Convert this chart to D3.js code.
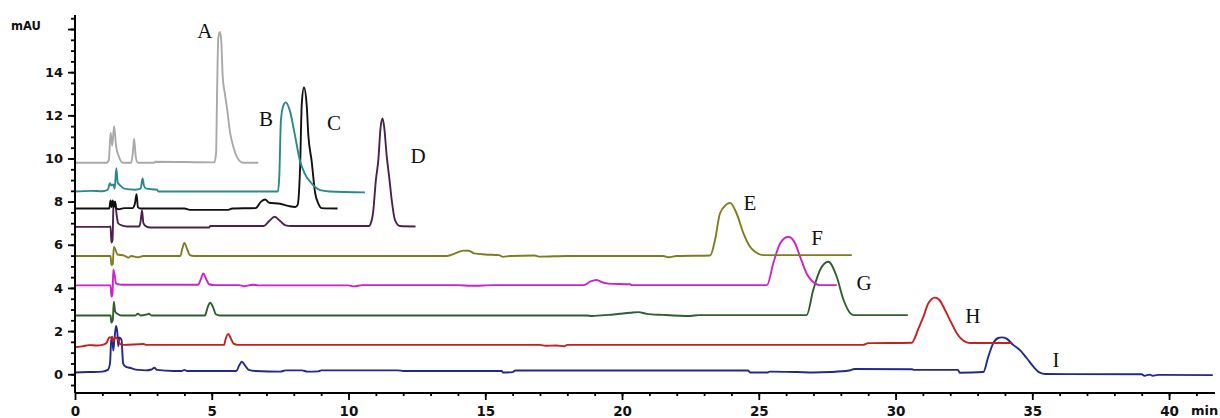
<!DOCTYPE html>
<html>
<head>
<meta charset="utf-8">
<script src="https://cdn.jsdelivr.net/npm/d3@7"></script>
<style>
  html, body { margin: 0; padding: 0; background: #fff; }
  svg { display: block; }
</style>
</head>
<body>
<svg id="chart" width="1220" height="418"></svg>
<script>
// ---- Data (retention time in min, absorbance in mAU) ----
const traceA = [[0,9.8],[1.15,9.8],[1.24,9.95],[1.3,11.2],[1.36,10.6],[1.43,11.5],[1.5,10.6],[1.6,10.1],[1.75,9.8],[2.05,9.8],[2.11,10.2],[2.16,10.9],[2.22,10.1],[2.3,9.8],[2.9,9.8],[2.93,9.85],[5.1,9.82],[5.16,10.3],[5.19,12.7],[5.24,15.6],[5.3,15.86],[5.35,15.4],[5.4,13.8],[5.48,13.0],[5.55,12.4],[5.67,11.2],[5.8,10.5],[5.91,10.1],[6.15,9.8],[6.7,9.8]];
const traceB = [[0,8.47],[0.6,8.5],[1.0,8.48],[1.2,8.55],[1.28,8.85],[1.33,8.75],[1.4,8.8],[1.45,8.6],[1.51,9.55],[1.56,8.9],[1.65,8.75],[1.8,8.6],[2.2,8.55],[2.4,8.6],[2.47,9.07],[2.52,8.75],[2.6,8.6],[3.0,8.55],[3.05,8.47],[7.42,8.47],[7.47,9.2],[7.53,11.8],[7.63,12.5],[7.7,12.6],[7.85,12.24],[8.03,11.15],[8.22,9.92],[8.4,9.3],[8.6,8.92],[8.8,8.65],[8.96,8.53],[9.3,8.47],[10.6,8.43]];
const traceC = [[0,7.68],[1.25,7.68],[1.3,8.05],[1.34,7.75],[1.38,8.05],[1.42,7.75],[1.46,8.0],[1.5,7.7],[1.6,7.65],[1.8,7.7],[2.1,7.7],[2.19,7.9],[2.25,8.35],[2.3,7.75],[2.4,7.68],[4.0,7.68],[4.2,7.62],[5.6,7.62],[5.75,7.68],[6.6,7.7],[6.8,8.0],[6.95,8.1],[7.1,7.95],[7.5,7.9],[7.8,7.8],[8.05,7.75],[8.14,7.85],[8.23,9.6],[8.29,12.5],[8.37,13.29],[8.47,12.5],[8.53,11.1],[8.65,9.9],[8.78,8.4],[8.9,7.9],[9.02,7.7],[9.6,7.68]];
const traceD = [[0,6.83],[1.25,6.83],[1.3,6.85],[1.33,6.1],[1.37,6.2],[1.41,7.9],[1.47,8.0],[1.52,7.4],[1.58,7.0],[1.7,6.9],[1.9,6.85],[2.35,6.85],[2.4,7.1],[2.45,7.6],[2.5,7.0],[2.6,6.85],[2.75,6.8],[4.9,6.8],[4.95,6.87],[6.9,6.87],[7.1,7.1],[7.3,7.3],[7.5,7.1],[7.7,6.9],[7.9,6.87],[10.75,6.87],[10.8,6.95],[10.9,7.5],[11.0,9.0],[11.09,9.92],[11.17,11.4],[11.24,11.85],[11.3,11.5],[11.4,10.07],[11.5,9.0],[11.58,8.07],[11.7,7.14],[11.88,6.87],[12.45,6.85]];
const traceE = [[0,5.48],[1.3,5.48],[1.33,5.06],[1.38,5.1],[1.42,5.9],[1.47,5.8],[1.55,5.55],[1.8,5.5],[1.95,5.4],[2.05,5.48],[2.3,5.42],[2.5,5.48],[3.85,5.48],[3.92,5.8],[4.0,6.09],[4.1,5.8],[4.2,5.52],[4.35,5.48],[13.6,5.48],[13.9,5.6],[14.2,5.73],[14.4,5.72],[14.6,5.6],[15.0,5.55],[15.5,5.52],[15.65,5.44],[15.9,5.48],[16.8,5.5],[17.0,5.45],[18.0,5.48],[21.5,5.48],[21.7,5.42],[22.0,5.48],[23.22,5.5],[23.4,6.22],[23.58,7.45],[23.8,7.85],[23.95,7.94],[24.19,7.45],[24.44,6.53],[24.68,5.91],[24.92,5.63],[25.17,5.52],[28.4,5.52]];
const traceF = [[0,4.12],[1.3,4.12],[1.33,3.6],[1.37,3.7],[1.4,4.85],[1.45,4.6],[1.5,4.2],[1.7,4.15],[4.5,4.15],[4.6,4.4],[4.69,4.67],[4.8,4.4],[4.9,4.17],[5.1,4.13],[6.0,4.13],[6.2,4.08],[6.5,4.15],[6.7,4.12],[10.0,4.12],[10.2,4.07],[10.5,4.13],[14.0,4.13],[14.5,4.1],[15.3,4.13],[18.6,4.13],[18.85,4.3],[19.07,4.37],[19.3,4.25],[19.5,4.2],[20.3,4.17],[20.35,4.13],[25.3,4.13],[25.53,5.14],[25.78,6.06],[26.08,6.37],[26.33,6.06],[26.51,5.45],[26.75,4.67],[27.06,4.21],[27.24,4.13],[27.85,4.13]];
const traceG = [[0,2.72],[1.3,2.72],[1.33,2.39],[1.38,2.5],[1.42,3.36],[1.47,2.9],[1.55,2.8],[1.7,2.72],[2.2,2.72],[2.3,2.8],[2.4,2.72],[2.6,2.76],[2.7,2.8],[2.8,2.72],[4.75,2.72],[4.85,3.1],[4.94,3.31],[5.05,3.1],[5.15,2.78],[5.3,2.72],[18.7,2.72],[18.9,2.7],[19.5,2.75],[19.9,2.8],[20.3,2.85],[20.6,2.88],[20.9,2.8],[21.5,2.75],[22.5,2.7],[22.8,2.74],[26.75,2.74],[26.99,3.9],[27.24,4.83],[27.54,5.21],[27.85,4.52],[28.1,3.44],[28.35,2.82],[28.47,2.74],[30.45,2.74]];
const traceH = [[0,1.25],[0.3,1.3],[0.5,1.35],[0.8,1.33],[1.0,1.36],[1.15,1.45],[1.25,1.7],[1.35,1.71],[1.4,1.5],[1.45,1.7],[1.55,1.65],[1.65,1.4],[1.8,1.36],[2.5,1.4],[2.6,1.36],[5.45,1.36],[5.5,1.6],[5.6,1.87],[5.7,1.65],[5.8,1.42],[5.95,1.36],[17.0,1.36],[17.2,1.32],[17.6,1.33],[17.9,1.3],[18.0,1.36],[28.8,1.36],[29.0,1.44],[30.59,1.46],[30.84,2.13],[31.02,2.67],[31.2,3.29],[31.44,3.55],[31.6,3.45],[31.75,3.13],[31.99,2.51],[32.24,1.9],[32.54,1.51],[32.72,1.45],[34.25,1.45]];
const traceI = [[0,0.08],[0.5,0.1],[1.0,0.12],[1.2,0.2],[1.28,0.5],[1.32,1.5],[1.36,1.74],[1.4,1.1],[1.44,1.6],[1.5,2.24],[1.55,1.9],[1.58,1.3],[1.62,1.7],[1.7,1.6],[1.76,0.5],[1.85,0.35],[2.0,0.3],[2.3,0.2],[2.6,0.18],[2.8,0.22],[2.9,0.3],[3.0,0.2],[3.6,0.15],[3.9,0.15],[4.0,0.2],[4.1,0.15],[5.9,0.15],[6.0,0.4],[6.1,0.58],[6.22,0.4],[6.35,0.2],[6.6,0.15],[7.5,0.12],[7.7,0.18],[8.3,0.18],[8.5,0.12],[8.9,0.13],[9.0,0.18],[11.8,0.18],[12.0,0.15],[15.6,0.15],[15.65,0.08],[16.0,0.1],[16.1,0.17],[24.6,0.17],[24.7,0.08],[25.3,0.08],[25.4,0.12],[26.4,0.1],[27.0,0.08],[27.6,0.1],[28.3,0.17],[28.5,0.24],[30.6,0.23],[30.7,0.2],[32.28,0.2],[32.35,0.07],[33.21,0.1],[33.39,0.81],[33.57,1.43],[33.75,1.68],[33.88,1.71],[34.06,1.65],[34.3,1.36],[34.55,1.12],[34.8,0.74],[35.04,0.35],[35.28,0.07],[35.47,0.01],[39.0,0.0],[39.1,-0.07],[39.3,-0.02],[39.4,-0.07],[39.6,-0.03],[41.6,-0.04]];

const sampleNames = ["I","H","G","F","E","D","C","B","A"];
const sampleColors = ["#1f2a8c","#c81e1e","#2f5f2f","#cc22cc","#7d7d1e","#4e204e","#111111","#2a8a8a","#a9a9a9"];
const sampleTraces = [traceI, traceH, traceG, traceF, traceE, traceD, traceC, traceB, traceA];
// label anchors [time, mAU]
const labelNames = ["A","B","C","D","E","F","G","H","I"];
const labelAnchors = [[4.75,15.57],[6.98,11.49],[9.47,11.31],[12.54,9.78],[24.68,7.61],[27.13,5.99],[28.85,3.9],[32.83,2.38],[35.87,0.34]];

const xMajorTicks = [0,5,10,15,20,25,30,35,40];
const yMajorTicks = [0,2,4,6,8,10,12,14,16];
const yTickLabels = ["0","2","4","6","8","10","12","14",""];

// ---- Drawing ----
const svg = d3.select("#chart");
svg.append("rect").attr("width",1220).attr("height",418).attr("fill","#fff");

const x = d3.scaleLinear().domain([0, 41.68]).range([75, 1215]);
const y = d3.scaleLinear().domain([-0.87, 16.65]).range([393, 15]);

const line = d3.line().curve(d3.curveMonotoneX).x(d => x(d[0])).y(d => y(d[1]));

const g = svg.append("g");
sampleTraces.forEach((tr, i) => {
  g.append("path")
    .datum(tr)
    .attr("d", line)
    .attr("fill", "none")
    .attr("stroke", sampleColors[i])
    .attr("stroke-width", 1.9)
    .attr("stroke-linejoin", "round");
});

// Axes
const fontAxis = "'DejaVu Sans', Verdana, sans-serif";
const yAxisMinor = d3.axisLeft(y).tickValues(d3.range(-0.5, 16.6, 0.5)).tickSize(4).tickFormat("");
const yAxisMajor = d3.axisLeft(y).tickValues(yMajorTicks).tickSize(7).tickPadding(5)
  .tickFormat((d,i) => yTickLabels[i]);
const gy1 = svg.append("g").attr("transform","translate(75,0)").call(yAxisMinor);
const gy2 = svg.append("g").attr("transform","translate(75,0)").call(yAxisMajor);
[gy1, gy2].forEach(a => {
  a.select(".domain").remove();
  a.selectAll(".tick line").attr("stroke","#000").attr("stroke-width",1.8);
});
gy2.selectAll(".tick text").attr("font-family", fontAxis).attr("font-size", 13)
  .attr("font-weight","bold").attr("fill","#111");

const xAxisMinor = d3.axisBottom(x).tickValues(d3.range(1, 42, 1)).tickSize(3).tickFormat("");
const xAxisMajor = d3.axisBottom(x).tickValues(xMajorTicks).tickSize(7).tickPadding(6).tickFormat(d3.format("d"));
const gx1 = svg.append("g").attr("transform","translate(0,393)").call(xAxisMinor);
const gx2 = svg.append("g").attr("transform","translate(0,393)").call(xAxisMajor);
[gx1, gx2].forEach(a => {
  a.select(".domain").remove();
  a.selectAll(".tick line").attr("stroke","#000").attr("stroke-width",1.8);
});
gx2.selectAll(".tick text").attr("font-family", fontAxis).attr("font-size", 13.5)
  .attr("font-weight","bold").attr("fill","#111");

// axis lines
svg.append("line").attr("x1",75).attr("x2",75).attr("y1",y.range()[1]).attr("y2",y.range()[0])
  .attr("stroke","#000").attr("stroke-width",2);
svg.append("line").attr("x1",x.range()[0]).attr("x2",x.range()[1]).attr("y1",393).attr("y2",393)
  .attr("stroke","#000").attr("stroke-width",2);

// unit labels
svg.append("text").attr("x",11).attr("y",30).text("mAU")
  .attr("font-family", fontAxis).attr("font-size",11.5).attr("font-weight","bold").attr("fill","#111");
svg.append("text").attr("x",1191).attr("y",415).text("min")
  .attr("font-family", fontAxis).attr("font-size",13).attr("font-weight","bold").attr("fill","#111");

// peak labels
labelNames.forEach((n,i) => {
  svg.append("text")
    .attr("x", x(labelAnchors[i][0]))
    .attr("y", y(labelAnchors[i][1]))
    .attr("text-anchor","middle")
    .attr("font-family","'Liberation Serif', 'Times New Roman', serif")
    .attr("font-size",21)
    .attr("fill","#111")
    .text(n);
});
</script>
</body>
</html>
